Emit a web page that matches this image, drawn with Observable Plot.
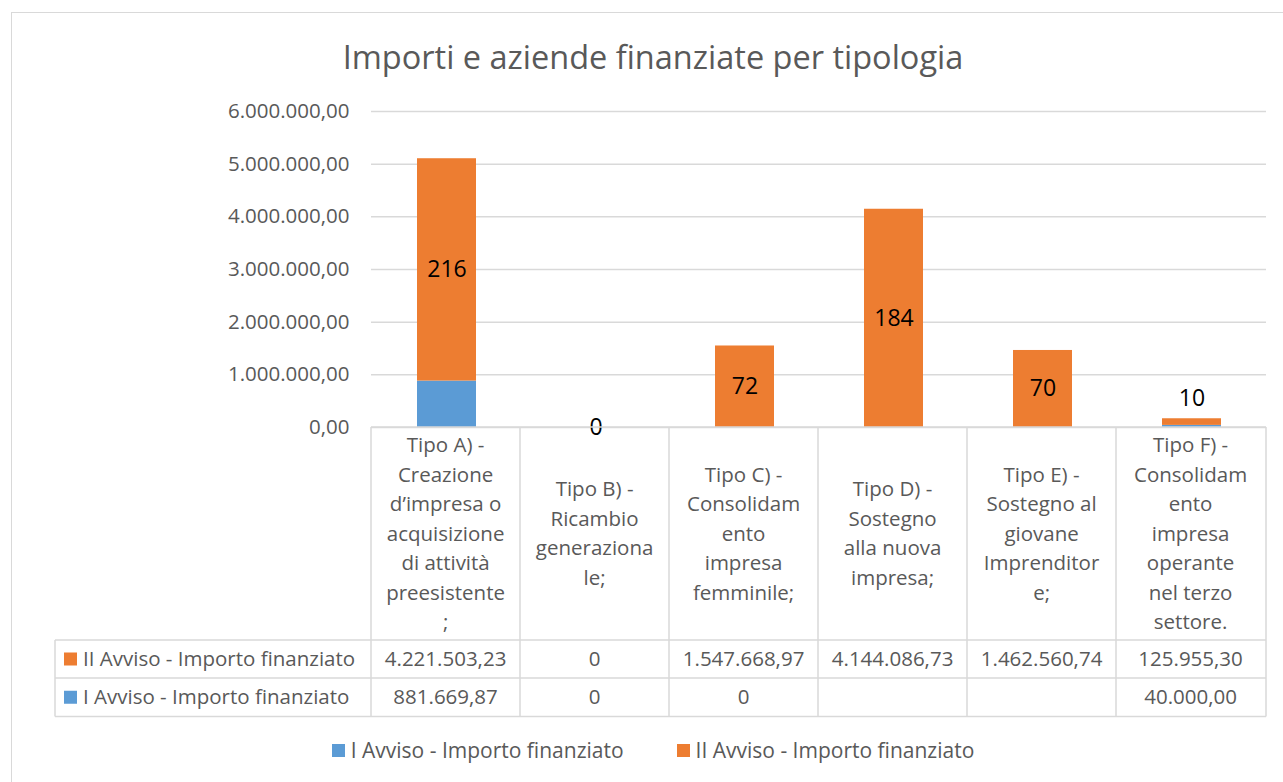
<!DOCTYPE html>
<html><head><meta charset="utf-8">
<script src="https://cdn.jsdelivr.net/npm/d3@7"></script>
<script src="https://cdn.jsdelivr.net/npm/@observablehq/plot@0.6"></script>
<style>
body{margin:0;background:#fff;font-family:"Open Sans",sans-serif;}
#wrap{position:relative;width:1283px;height:782px;overflow:hidden;background:#fff;}
#frame{position:absolute;left:11px;top:12px;width:1320px;height:820px;border:1.5px solid #d9d9d9;box-sizing:border-box;}
#title{position:absolute;left:11px;width:1284px;top:37px;text-align:center;font-size:32.5px;color:#595959;line-height:1.2;white-space:nowrap;}
#chart{position:absolute;left:0;top:0;}
#legend{position:absolute;left:11px;width:1284px;top:736px;display:flex;justify-content:center;gap:53px;font-size:21px;color:#595959;line-height:28px;}
#legend .item{display:flex;align-items:center;}
#legend .sw{width:13px;height:13px;margin-right:6px;display:inline-block;}
</style>
</head><body>
<div id="wrap">
  <div id="frame"></div>
  <div id="title">Importi e aziende finanziate per tipologia</div>
  <div id="chart"></div>
  <div id="legend"></div>
</div>
<script>
// ---------- data ----------
const categories = ["A", "B", "C", "D", "E", "F"];
const categoryLabels = [
  ["Tipo A) -", "Creazione", "d’impresa o", "acquisizione", "di attività", "preesistente", ";"],
  ["Tipo B) -", "Ricambio", "generaziona", "le;"],
  ["Tipo C) -", "Consolidam", "ento", "impresa", "femminile;"],
  ["Tipo D) -", "Sostegno", "alla nuova", "impresa;"],
  ["Tipo E) -", "Sostegno al", "giovane", "Imprenditor", "e;"],
  ["Tipo F) -", "Consolidam", "ento", "impresa", "operante", "nel terzo", "settore."]
];
const seriesNames = ["I Avviso - Importo finanziato", "II Avviso - Importo finanziato"];
const seriesColors = ["#5b9bd5", "#ed7d31"];
const avviso1 = [881669.87, 0, 0, null, null, 40000.00];
const avviso2 = [4221503.23, 0, 1547668.97, 4144086.73, 1462560.74, 125955.30];
const aziende = [216, 0, 72, 184, 70, 10];
const yTicks = [0, 1000000, 2000000, 3000000, 4000000, 5000000, 6000000];

// ---------- formatting ----------
const locale = d3.formatLocale({decimal: ",", thousands: ".", grouping: [3], currency: ["€", ""]});
const fmt2 = locale.format(",.2f");
const cellFmt = v => v === null ? "" : v === 0 ? "0" : fmt2(v);

// ---------- derived tables ----------
const long = [];
categories.forEach((c, i) => {
  long.push({cat: c, series: seriesNames[0], value: avviso1[i]});
  long.push({cat: c, series: seriesNames[1], value: avviso2[i]});
});
const labels = categories.map((c, i) => {
  const base = avviso1[i] || 0, top = avviso2[i] || 0;
  return {cat: c, count: aziende[i], mid: base + top / 2, top: base + top, small: top > 0 && top < 300000};
});
const tableRows = [
  {name: seriesNames[1], color: seriesColors[1], values: avviso2},
  {name: seriesNames[0], color: seriesColors[0], values: avviso1}
];

// ---------- data table mark (uses the plot's x/y scales) ----------
function tableMark(index, scales, values, dims) {
  const x = scales.x, y = scales.y;
  const n = categories.length;
  const left = dims.marginLeft, right = dims.width - dims.marginRight;
  const step = (right - left) / n;
  const off = x(categories[0]) - left;
  const colLeft = c => x(c) - off;
  const top = y(0);
  const headerH = 213, rowH = [38, 38.5];
  const labelLeft = 55;
  const g = d3.create("svg:g").attr("font-family", "Open Sans").attr("font-size", 20.5)
    .attr("fill", "#595959").attr("text-anchor", "middle");
  const line = (x1, y1, x2, y2) => g.append("line").attr("x1", x1).attr("y1", y1).attr("x2", x2).attr("y2", y2)
    .attr("stroke", "#d9d9d9").attr("stroke-width", 1.5);
  const rowTops = [top + headerH, top + headerH + rowH[0], top + headerH + rowH[0] + rowH[1]];
  line(left, top, right, top);
  rowTops.forEach(yy => line(labelLeft, yy, right, yy));
  categories.forEach(c => line(colLeft(c), top, colLeft(c), rowTops[2]));
  line(right, top, right, rowTops[2]);
  line(labelLeft, rowTops[0], labelLeft, rowTops[2]);
  // header
  const lh = 29.5;
  categories.forEach((c, i) => {
    const lines = categoryLabels[i];
    const cx = colLeft(c) + step / 2;
    const cy = top + headerH / 2;
    lines.forEach((t, k) => {
      g.append("text").attr("x", cx).attr("y", cy + (k - (lines.length - 1) / 2) * lh)
        .attr("dy", "0.35em").attr("text-anchor", "middle").text(t);
    });
  });
  // rows
  tableRows.forEach((r, ri) => {
    const cy = rowTops[ri] + rowH[ri] / 2;
    g.append("rect").attr("x", 64).attr("y", cy - 6.5).attr("width", 13).attr("height", 13).attr("fill", r.color);
    g.append("text").attr("x", 83).attr("y", cy).attr("dy", "0.35em").attr("text-anchor", "start").text(r.name);
    categories.forEach((c, i) => {
      g.append("text").attr("x", colLeft(c) + step / 2).attr("y", cy).attr("dy", "0.35em")
        .attr("text-anchor", "middle").text(cellFmt(r.values[i]));
    });
  });
  return g.node();
}

const chart = Plot.plot({
  width: 1283, height: 730,
  marginLeft: 371, marginRight: 17, marginTop: 111, marginBottom: 303,
  x: {domain: categories, padding: 0, axis: null},
  y: {domain: [0, 6000000], axis: null},
  color: {domain: seriesNames, range: seriesColors},
  style: {fontFamily: "Open Sans", background: "transparent", overflow: "visible"},
  marks: [
    Plot.gridY(yTicks, {stroke: "#d9d9d9", strokeOpacity: 1, strokeWidth: 1.5}),
    Plot.axisY(yTicks, {tickSize: 0, tickPadding: 22, tickFormat: fmt2, fontSize: 20.5, fill: "#595959", label: null}),
    Plot.barY(long, {x: "cat", y: "value", fill: "series", insetLeft: 45, insetRight: 45}),
    Plot.text(labels.filter(d => !d.small), {x: "cat", y: "mid", text: "count", fontSize: 23, fill: "#000"}),
    Plot.text(labels.filter(d => d.small), {x: "cat", y: "top", text: "count", fontSize: 23, fill: "#000", dy: -20}),
    tableMark
  ]
});
document.getElementById("chart").appendChild(chart);

// ---------- legend ----------
const legend = d3.select("#legend");
seriesNames.forEach((s, i) => {
  const it = legend.append("div").attr("class", "item");
  it.append("span").attr("class", "sw").style("background", seriesColors[i]);
  it.append("span").text(s);
});
</script>
</body></html>
